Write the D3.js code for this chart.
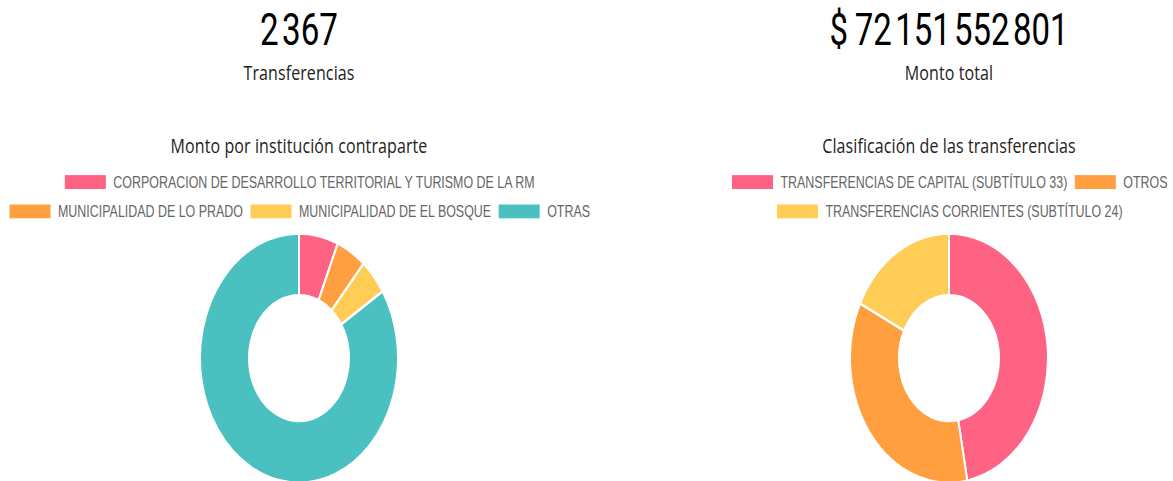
<!DOCTYPE html>
<html>
<head>
<meta charset="utf-8">
<script src="https://cdn.jsdelivr.net/npm/d3@7"></script>
<style>
  html, body { margin: 0; padding: 0; background: #fff; }
  svg { display: block; }
</style>
</head>
<body>
<svg id="chart" width="1173" height="481"></svg>
<script>
// ---------- DATA ----------
const kpiValues = [2367, 72151552801];
const kpiPrefixes = ["", "$\u2009"];
const kpiLabels = ["Transferencias", "Monto total"];

const chartTitles = ["Monto por institución contraparte", "Clasificación de las transferencias"];

const institutionCategories = [
  "CORPORACION DE DESARROLLO TERRITORIAL Y TURISMO DE LA RM",
  "MUNICIPALIDAD DE LO PRADO",
  "MUNICIPALIDAD DE EL BOSQUE",
  "OTRAS"
];
const institutionValues = [4620000000, 3540000000, 3390000000, 60600000000];

const classificationCategories = [
  "TRANSFERENCIAS DE CAPITAL (SUBTÍTULO 33)",
  "OTROS",
  "TRANSFERENCIAS CORRIENTES (SUBTÍTULO 24)"
];
const classificationValues = [33980000000, 25400000000, 12840000000];

const institutionColors = ["#FF6384", "#FF9F40", "#FFCD56", "#4BC0C0"];
const classificationColors = ["#FF6384", "#FF9F40", "#FFCD56"];

// ---------- LAYOUT ----------
const W = 1173, H = 481, baseH = 382;
const sy = H / baseH;
const svg = d3.select("#chart");
const root = svg.append("g").attr("transform", `scale(1,${sy})`);

const panelWidth = 598;
const centers = [299, 949];
const kpiWidths = [78, 239];
const fmt = d3.formatLocale({ decimal: ",", thousands: "\u200A", grouping: [3], currency: ["$", ""] }).format(",d");

const panels = [
  { cats: institutionCategories, vals: institutionValues, colors: institutionColors },
  { cats: classificationCategories, vals: classificationValues, colors: classificationColors }
];

const headFont = "'Open Sans', Roboto, sans-serif";

panels.forEach((p, i) => {
  const cx = centers[i];
  const g = root.append("g");

  // KPI
  g.append("text")
    .attr("x", cx).attr("y", 35.7)
    .attr("text-anchor", "middle")
    .attr("textLength", kpiWidths[i])
    .attr("lengthAdjust", "spacingAndGlyphs")
    .style("font-family", "Roboto, sans-serif")
    .style("font-size", "35px")
    .style("fill", "#000")
    .text(kpiPrefixes[i] + fmt(kpiValues[i]));

  g.append("text")
    .attr("x", cx).attr("y", 63.5)
    .attr("text-anchor", "middle")
    .style("font-family", headFont)
    .style("font-size", "16px")
    .style("letter-spacing", "0.1px")
    .style("fill", "#222")
    .text(kpiLabels[i]);

  // Title
  g.append("text")
    .attr("x", cx).attr("y", 121.8)
    .attr("text-anchor", "middle")
    .style("font-family", headFont)
    .style("font-size", "16px")
    .style("letter-spacing", "0.1px")
    .style("fill", "#222")
    .text(chartTitles[i]);

  // Legend (Chart.js style layout)
  const fontSize = 12.45, boxW = 40, boxH = 10, pad = 10, lineH = 23.3;
  const leg = g.append("g");
  const items = p.cats.map((c, k) => {
    const t = leg.append("text")
      .style("font-family", "'Liberation Sans', Arial, Helvetica, sans-serif")
      .style("font-size", fontSize + "px")
      .style("fill", "#666")
      .attr("dominant-baseline", "central")
      .text(c);
    const w = t.node().getComputedTextLength();
    return { c, k, t, w: boxW + 6 + w };
  });
  const lines = [[]];
  let lw = 0;
  items.forEach(it => {
    if (lines[lines.length - 1].length && lw + it.w + pad > panelWidth) {
      lines.push([]); lw = 0;
    }
    lines[lines.length - 1].push(it);
    lw += it.w + pad;
  });
  const legTop = 144.6;
  lines.forEach((line, li) => {
    const total = d3.sum(line, d => d.w) + pad * (line.length - 1);
    let x = cx - total / 2;
    const yc = legTop + li * lineH;
    line.forEach(it => {
      leg.append("rect")
        .attr("x", x).attr("y", yc - boxH / 2)
        .attr("width", boxW).attr("height", boxH)
        .attr("fill", p.colors[it.k])
        .attr("stroke", p.colors[it.k]).attr("stroke-width", 1);
      it.t.attr("x", x + boxW + 8).attr("y", yc);
      x += it.w + pad;
    });
  });

  // Donut
  const pie = d3.pie().sort(null).value(d => d);
  const arc = d3.arc().innerRadius(50).outerRadius(99);
  const dg = g.append("g").attr("transform", `translate(${cx},284.4)`);
  dg.selectAll("path")
    .data(pie(p.vals))
    .join("path")
    .attr("d", arc)
    .attr("fill", (d, k) => p.colors[k])
    .attr("stroke", "#fff")
    .attr("stroke-width", 2);
});
</script>
</body>
</html>
